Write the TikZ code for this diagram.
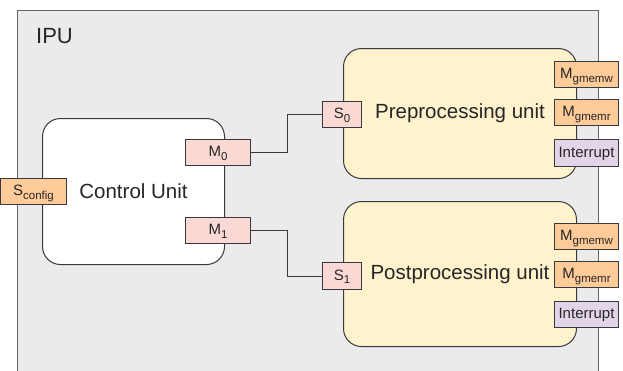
\documentclass[tikz,border=0pt]{standalone}
\usepackage{fontspec}
\setmainfont{Liberation Sans}
\definecolor{ipufill}{HTML}{EBEBEB}
\definecolor{ipuline}{HTML}{666666}
\definecolor{edge}{HTML}{36393D}
\definecolor{unitfill}{HTML}{FFF2CC}
\definecolor{pinkport}{HTML}{FAD9D5}
\definecolor{orangeport}{HTML}{FFCC99}
\definecolor{purpleport}{HTML}{E1D5E7}
\newcommand{\portsub}[1]{\raisebox{-3.5pt}{\fontsize{11.5}{12}\selectfont #1}}
\begin{document}
\begin{tikzpicture}[x=1pt,y=-1pt,
  ipu/.style={draw=ipuline, fill=ipufill, line width=1pt},
  unitbox/.style={draw=edge, line width=1pt, rounded corners=18pt, anchor=north west,
    font=\fontsize{20.5}{24}\selectfont, inner sep=0pt, text=black!85},
  port/.style={draw=edge, line width=1pt, anchor=north west, inner sep=0pt,
    font=\fontsize{15}{18}\selectfont, text height=10.5pt, text depth=2pt, text=black!85},
  pink/.style={port, fill=pinkport},
  orange/.style={port, fill=orangeport},
  purple/.style={port, fill=purpleport},
  wire/.style={draw=edge, line width=1pt}]
\useasboundingbox (0,0) rectangle (623,370);
\clip (0,0) rectangle (623,370);
\path[ipu] (17,10) rectangle (598,395);
\node[anchor=base west, inner sep=0pt, font=\fontsize{22}{26}\selectfont, text=black!85] (ipulabel) at (36,43) {IPU};
% units
\node[unitbox, fill=white, minimum width=182pt, minimum height=146pt] (cu) at (42,118) {Control Unit};
\node[unitbox, fill=unitfill, minimum width=233pt, minimum height=130pt] (pre) at (343,48) {Preprocessing unit};
\node[unitbox, fill=unitfill, minimum width=233pt, minimum height=145pt] (post) at (343,201) {Postprocessing unit};
% control unit ports
\node[orange, minimum width=66pt, minimum height=26pt] (scfg) at (0,178) {S\portsub{config}};
\node[pink, minimum width=65pt, minimum height=26pt] (m0) at (185,139) {M\portsub{0}};
\node[pink, minimum width=65pt, minimum height=26pt] (m1) at (185,217) {M\portsub{1}};
% preprocessing ports
\node[pink, minimum width=39pt, minimum height=26pt] (s0) at (322,101) {S\portsub{0}};
\node[orange, minimum width=64pt, minimum height=26pt] (prew) at (554,61) {M\portsub{gmemw}};
\node[orange, minimum width=64pt, minimum height=26pt] (prer) at (554,99) {M\portsub{gmemr}};
\node[purple, minimum width=64pt, minimum height=27pt] (preint) at (554,139) {Interrupt};
% postprocessing ports
\node[pink, minimum width=39pt, minimum height=27pt] (s1) at (322,262) {S\portsub{1}};
\node[orange, minimum width=64pt, minimum height=26pt] (postw) at (554,223) {M\portsub{gmemw}};
\node[orange, minimum width=64pt, minimum height=26pt] (postr) at (554,261) {M\portsub{gmemr}};
\node[purple, minimum width=64pt, minimum height=26pt] (postint) at (554,301) {Interrupt};
% wires
\draw[wire] (m0.east) -- ++(36,0) |- (s0.west);
\draw[wire] (m1.east) -- ++(36,0) |- (s1.west);
\end{tikzpicture}
\end{document}
